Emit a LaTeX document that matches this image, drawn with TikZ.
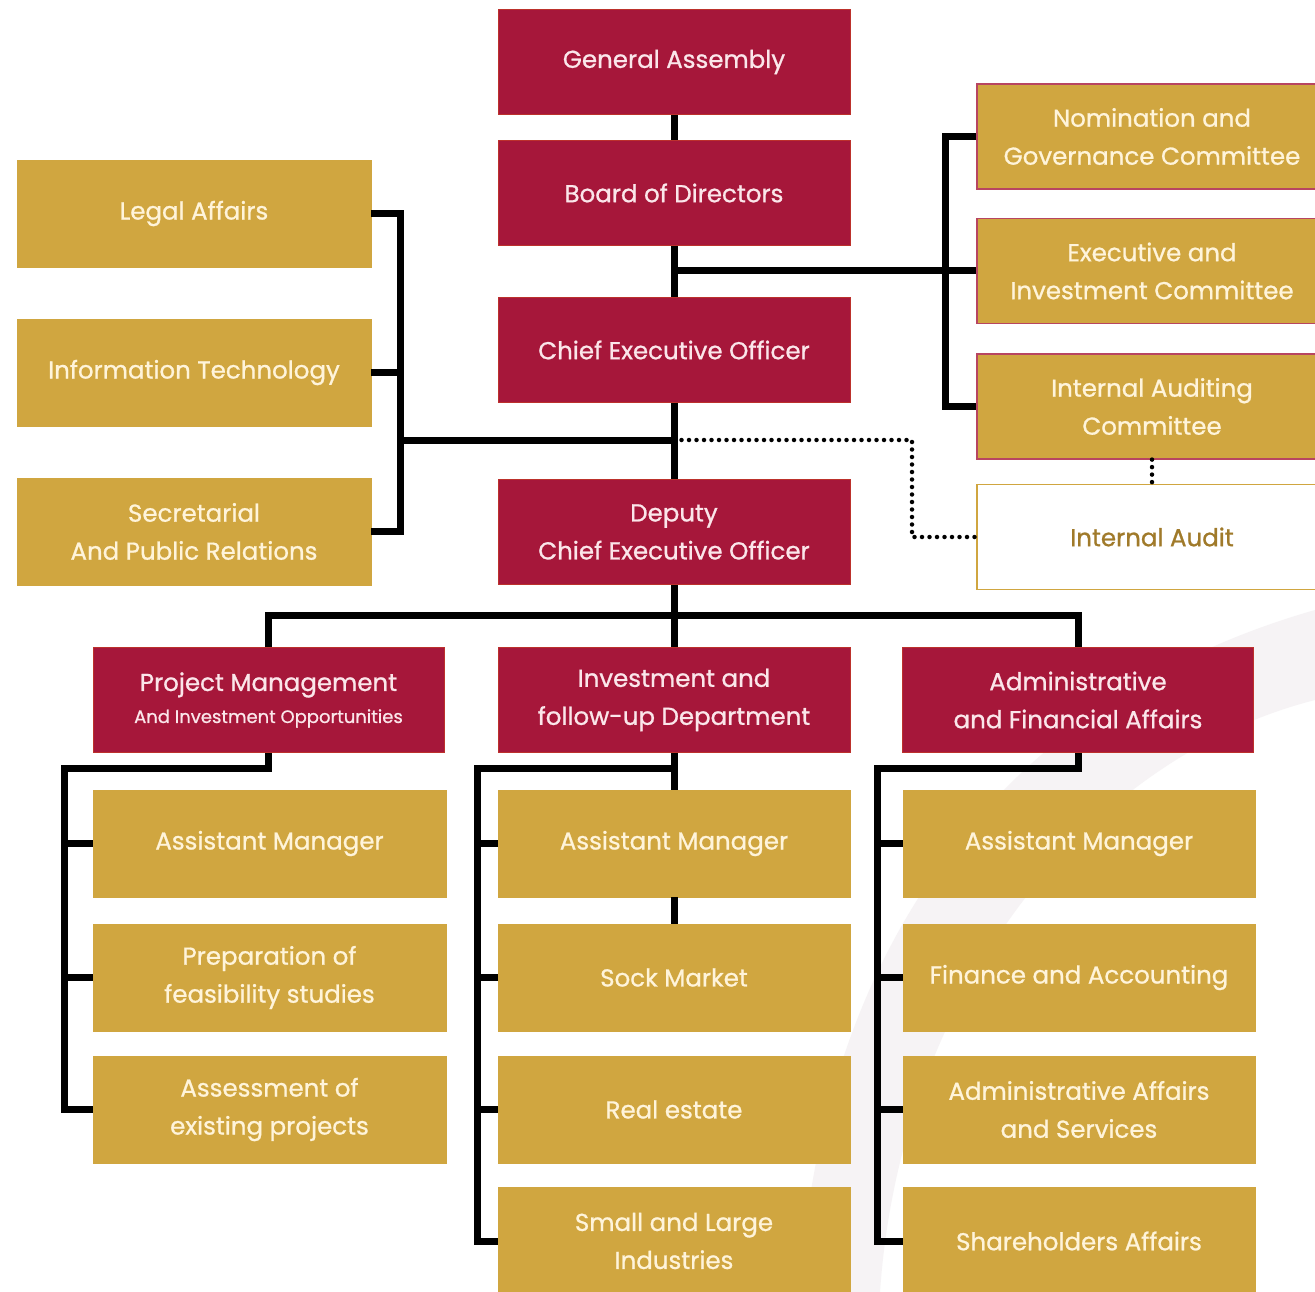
\documentclass[tikz,border=0pt]{standalone}
\usepackage{fontspec}
\setmainfont{Poppins}
\newfontfamily\medfont{Poppins}[FakeBold=0.9]
\definecolor{crim}{HTML}{A6173A}
\definecolor{gold}{HTML}{D0A640}
\definecolor{pinkt}{HTML}{FBE6EA}
\definecolor{creamt}{HTML}{FFF4DA}
\definecolor{audt}{HTML}{A07A2A}
\definecolor{swoosh}{HTML}{F6F3F5}
\tikzset{
  base/.style={rectangle, inner sep=0pt, align=center, minimum width=352pt, minimum height=105pt,
    font=\medfont\fontsize{24.5}{38}\selectfont},
  redbox/.style={base, fill=crim, draw=crim!75!orange, line width=0.8pt, text=pinkt},
  goldbox/.style={base, fill=gold, draw=gold, line width=0.8pt, text=creamt},
  combox/.style={base, fill=gold, draw=crim!80, line width=1.2pt, text=creamt, minimum width=350pt},
  whitebox/.style={base, fill=white, draw=gold, line width=1.5pt, text=audt, minimum width=350pt},
  conn/.style={line width=7pt, black, line join=miter},
  dotconn/.style={line width=4.5pt, black, line cap=round, dash pattern=on 0pt off 7.5pt}
}
\begin{document}
\begin{tikzpicture}[x=1pt,y=-1pt]
\useasboundingbox (0,0) rectangle (1315,1292);
\fill[white] (0,0) rectangle (1315,1292);
% faint background swoosh
\fill[swoosh] (1315,610) .. controls (1000,700) and (820,950) .. (800,1292)
  -- (880,1292) .. controls (900,1000) and (1080,760) .. (1315,700) -- cycle;

% top chain
\node[redbox] (ga)  at (674,62)  {General Assembly};
\node[redbox] (bod) at (674,193) {Board of Directors};
\node[redbox] (ceo) at (674,350) {Chief Executive Officer};
\node[redbox] (dep) at (674,532) {Deputy\\Chief Executive Officer};

% committees
\node[combox] (nom)  at (1152,136.5) {Nomination and\\Governance Committee};
\node[combox] (exe)  at (1152,271) {Executive and\\Investment Committee};
\node[combox] (iac)  at (1152,406.5) {Internal Auditing\\Committee};
\node[whitebox] (ia) at (1152,537)   {Internal Audit};

% left staff units
\node[goldbox, minimum width=354pt, minimum height=107pt] (leg) at (194,213.5) {Legal Affairs};
\node[goldbox, minimum width=354pt, minimum height=107pt] (it)  at (194,372.5) {Information Technology};
\node[goldbox, minimum width=354pt, minimum height=107pt] (sec) at (194,531.5) {Secretarial\\And Public Relations};

% departments
\node[redbox, minimum width=351pt] (pm) at (268.5,700) {Project Management\\[-6pt]{\fontsize{18}{24}\selectfont And Investment Opportunities}};
\node[redbox] (inv) at (674,700) {Investment and\\follow-up Department};
\node[redbox, minimum width=351pt] (afa) at (1078,700) {Administrative\\and Financial Affairs};

% left column
\node[goldbox, minimum width=353pt, minimum height=107pt] (l1) at (269.5,843.5) {Assistant Manager};
\node[goldbox, minimum width=353pt, minimum height=107pt] (l2) at (269.5,977.5) {Preparation of\\feasibility studies};
\node[goldbox, minimum width=353pt, minimum height=107pt] (l3) at (269.5,1109.5) {Assessment of\\existing projects};
% middle column
\node[goldbox, minimum height=107pt] (m1) at (674,843.5) {Assistant Manager};
\node[goldbox, minimum height=107pt] (m2) at (674,977.5) {Sock Market};
\node[goldbox, minimum height=107pt] (m3) at (674,1109.5) {Real estate};
\node[goldbox, minimum height=107pt] (m4) at (674,1241) {Small and Large\\Industries};
% right column
\node[goldbox, minimum height=107pt] (r1) at (1079,843.5) {Assistant Manager};
\node[goldbox, minimum height=107pt] (r2) at (1079,977.5) {Finance and Accounting};
\node[goldbox, minimum height=107pt] (r3) at (1079,1109.5) {Administrative Affairs\\and Services};
\node[goldbox, minimum height=107pt] (r4) at (1079,1241) {Shareholders Affairs};

% junction coordinates
\coordinate (cj) at (bod.south |- exe.west);
\coordinate (cbar) at (945,271);
\coordinate (lbar) at (400,440);
\coordinate (mj) at (674,440);
\coordinate (dj) at (912,440);
\coordinate (hb) at (674,615);
\coordinate (lb) at (64,768);
\coordinate (mb) at (477,768);
\coordinate (rb) at (877,768);

% top chain connectors
\draw[conn] (ga.south) -- (bod.north);
\draw[conn] (bod.south) -- (ceo.north);
\draw[conn] (ceo.south) -- (dep.north);
% committees
\draw[conn] (cj) -- (exe.west);
\draw[conn] (nom.west) -| (cbar) |- (iac.west);
% left staff
\draw[conn] (leg.east) -| (lbar) |- (sec.east);
\draw[conn] (it.east) -- (it.east -| lbar);
\draw[conn] (lbar) -- (mj);
% dotted audit lines
\draw[dotconn] (mj) -- (dj) |- (ia.west);
\draw[dotconn] (iac.south) -- (ia.north);
% departments
\draw[conn] (dep.south) -- (inv.north);
\draw[conn] (pm.north) |- (hb) -| (afa.north);
% left column
\draw[conn] (pm.south) |- (lb) |- (l3.west);
\draw[conn] (l1.west) -- (l1.west -| lb);
\draw[conn] (l2.west) -- (l2.west -| lb);
% middle column
\draw[conn] (inv.south) -- (m1.north);
\draw[conn] (m1.south) -- (m2.north);
\draw[conn] (inv.south |- mb) -- (mb) |- (m4.west);
\draw[conn] (m1.west) -- (m1.west -| mb);
\draw[conn] (m2.west) -- (m2.west -| mb);
\draw[conn] (m3.west) -- (m3.west -| mb);
% right column
\draw[conn] (afa.south) |- (rb) |- (r4.west);
\draw[conn] (r1.west) -- (r1.west -| rb);
\draw[conn] (r2.west) -- (r2.west -| rb);
\draw[conn] (r3.west) -- (r3.west -| rb);
\end{tikzpicture}
\end{document}
